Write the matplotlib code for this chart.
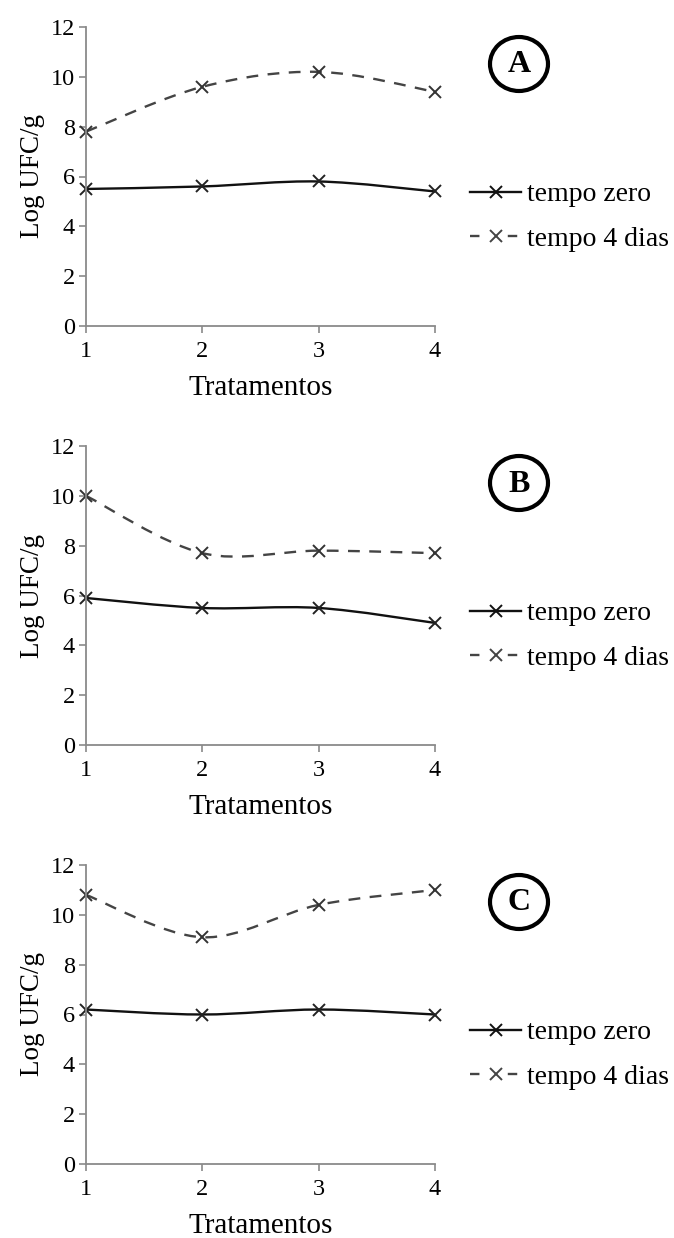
import matplotlib
matplotlib.use("Agg")
import matplotlib.pyplot as plt
from matplotlib.path import Path
from matplotlib.patches import PathPatch, Ellipse
from matplotlib.lines import Line2D
import numpy as np

plt.rcParams['font.family'] = ['Liberation Serif', 'DejaVu Serif']

tratamentos = [1, 2, 3, 4]
panel_labels = ["A", "B", "C"]
zero_A = [5.5, 5.6, 5.8, 5.4]
dias4_A = [7.8, 9.6, 10.2, 9.4]
zero_B = [5.9, 5.5, 5.5, 4.9]
dias4_B = [10.0, 7.7, 7.8, 7.7]
zero_C = [6.2, 6.0, 6.2, 6.0]
dias4_C = [10.8, 9.1, 10.4, 11.0]
series_names = ["tempo zero", "tempo 4 dias"]
yticks = [0, 2, 4, 6, 8, 10, 12]

panels = [(zero_A, dias4_A), (zero_B, dias4_B), (zero_C, dias4_C)]

W, H = 674, 1238
fig = plt.figure(figsize=(W / 100, H / 100), dpi=100)

AX_GRAY = '#8a8a8a'
SOLID = '#111111'
DASH = '#444444'


def smooth_path(x, y):
    """Excel-style smoothed line: cubic Bezier through the data points."""
    x = np.asarray(x, float)
    y = np.asarray(y, float)
    n = len(x)
    verts = [(x[0], y[0])]
    codes = [Path.MOVETO]
    for i in range(n - 1):
        xp, yp = (x[i - 1], y[i - 1]) if i > 0 else (x[i], y[i])
        xn2, yn2 = (x[i + 2], y[i + 2]) if i + 2 < n else (x[i + 1], y[i + 1])
        c1 = (x[i] + (x[i + 1] - xp) / 6, y[i] + (y[i + 1] - yp) / 6)
        c2 = (x[i + 1] - (xn2 - x[i]) / 6, y[i + 1] - (yn2 - y[i]) / 6)
        verts += [c1, c2, (x[i + 1], y[i + 1])]
        codes += [Path.CURVE4] * 3
    return Path(verts, codes)


bottoms_px = [326, 745, 1164]
top_offset = 299
left_px, right_px = 86, 435

for k, ((z, d), lab) in enumerate(zip(panels, panel_labels)):
    b = bottoms_px[k]
    ax = fig.add_axes([left_px / W, (H - b) / H, (right_px - left_px) / W, top_offset / H])
    ax.set_xlim(1, 4)
    ax.set_ylim(0, 12)
    for s in ['top', 'right']:
        ax.spines[s].set_visible(False)
    for s in ['left', 'bottom']:
        ax.spines[s].set_color(AX_GRAY)
        ax.spines[s].set_linewidth(1.3)
    ax.set_xticks(tratamentos)
    ax.set_yticks(yticks)
    ax.tick_params(axis='both', direction='out', length=5, width=1.2, color=AX_GRAY,
                   labelsize=17.5, pad=3)
    ax.tick_params(axis='x', pad=6)

    p1 = PathPatch(smooth_path(tratamentos, z), fill=False, edgecolor=SOLID,
                   linewidth=1.7, clip_on=False)
    ax.add_patch(p1)
    p2 = PathPatch(smooth_path(tratamentos, d), fill=False, edgecolor=DASH,
                   linewidth=1.7, linestyle=(0, (5, 4)), clip_on=False)
    ax.add_patch(p2)
    ax.plot(tratamentos, z, linestyle='none', marker='x', markersize=9,
            markeredgewidth=1.4, color='#222222', clip_on=False)
    ax.plot(tratamentos, d, linestyle='none', marker='x', markersize=9,
            markeredgewidth=1.4, color='#333333', clip_on=False)

    ax.set_xlabel("Tratamentos", fontsize=21, labelpad=9)
    ax.set_ylabel("Log UFC/g", fontsize=19.5, labelpad=4)

    handles = [
        Line2D([], [], color=SOLID, linewidth=1.7, marker='x', markersize=9,
               markeredgewidth=1.4),
        Line2D([], [], color=DASH, linewidth=1.7, linestyle=(0, (4, 12)), marker='x',
               markersize=9, markeredgewidth=1.4),
    ]
    fig.legend(handles, series_names, loc='upper left',
               bbox_to_anchor=(470 / W, 1 - (b - 144) / H),
               frameon=False, fontsize=20, handlelength=1.85, handletextpad=0.2,
               labelspacing=0.68, borderaxespad=0, borderpad=0)

    # circled panel letter
    cx, cy = 519, b - 262
    fig.patches.append(Ellipse((cx / W, 1 - cy / H), 58 / W, 54 / H, fill=False,
                               edgecolor='black', linewidth=3.0,
                               transform=fig.transFigure, figure=fig))
    fig.text(cx / W, 1 - (cy + 1) / H, lab, ha='center', va='center', fontsize=23,
             fontweight='bold')

fig.savefig("out.png", dpi=100)
